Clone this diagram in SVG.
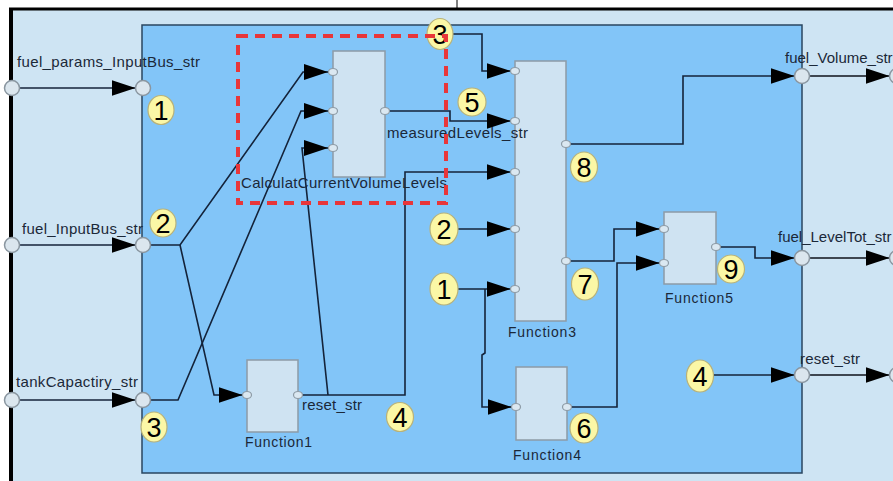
<svg xmlns="http://www.w3.org/2000/svg" width="893" height="481" viewBox="0 0 893 481">
<style>
text{font-family:"Liberation Sans",Arial,sans-serif;fill:#1b2838}
.lbl{font-size:15px}
.fn{font-size:14px}
.blk{fill:#cfe3f2;stroke:#8d9ba6;stroke-width:1.5}
.sp{fill:#dbe8f1;stroke:#8d9ba6;stroke-width:1.2}
.bp{fill:#dbe6ee;stroke:#8a96a0;stroke-width:1.5}
.bdg ellipse{fill:#fbf7a6;stroke:#b8b27a;stroke-width:1.2}
.bdg text{font-size:27px;fill:#000;text-anchor:middle}
.cn{fill:none;stroke:#14233a;stroke-width:1.6}
.out{fill:none;stroke:#3e4650;stroke-width:2}
</style>
<defs>
<marker id="arr" markerUnits="userSpaceOnUse" markerWidth="26" markerHeight="18" refX="24" refY="8" orient="auto">
<path d="M0,0 L24,8 L0,16 Z" fill="#000"/>
</marker>
</defs>
<rect x="0" y="0" width="893" height="481" fill="#ffffff"/>
<rect x="11" y="10" width="882" height="471" fill="#cee4f3"/>
<line x1="457" y1="0" x2="457" y2="9" stroke="#000" stroke-width="1"/>
<line x1="9" y1="9" x2="893" y2="9" stroke="#000" stroke-width="3"/>
<line x1="11" y1="8" x2="11" y2="481" stroke="#000" stroke-width="4"/>
<g id="container">
<rect x="142" y="25" width="660" height="448" fill="#82c5f8" stroke="#2a4560" stroke-width="1.5"/>
</g>
<g id="connectors">
<path class="cn" d="M12,88 L135.5,88" marker-end="url(#arr)"/>
<path class="cn" d="M12,245 L135.5,245" marker-end="url(#arr)"/>
<path class="cn" d="M12,400 L135.5,400" marker-end="url(#arr)"/>
<path class="cn" d="M150.5,245 L180,245 L303,72 L328,72" marker-end="url(#arr)"/>
<path class="cn" d="M180,245 L214,395 L242.5,395" marker-end="url(#arr)"/>
<path class="cn" d="M150.5,400 L178,400 L301,111 L328,111" marker-end="url(#arr)"/>
<path class="cn" d="M302,395 L405,395 L405,172 L510.5,172" marker-end="url(#arr)"/>
<path class="cn" d="M328,395 L302,148 L328,148" marker-end="url(#arr)"/>
<path class="cn" d="M389,111 L450,111 L450,121 L510.5,121" marker-end="url(#arr)"/>
<path class="cn" d="M453,34 L482,34 L482,71 L510.5,71" marker-end="url(#arr)"/>
<path class="cn" d="M457,229 L510.5,229" marker-end="url(#arr)"/>
<path class="cn" d="M457,289 L510.5,289" marker-end="url(#arr)"/>
<path class="cn" d="M485,289 L485,353 L482,355 L482,407 L511.5,407" marker-end="url(#arr)"/>
<path class="cn" d="M570,144 L683,144 L683,76 L794.5,76" marker-end="url(#arr)"/>
<path class="cn" d="M570,261 L614,261 L614,229 L659.5,229" marker-end="url(#arr)"/>
<path class="cn" d="M571,407 L617,407 L617,263 L659.5,263" marker-end="url(#arr)"/>
<path class="cn" d="M720,247 L755,247 L755,258 L794.5,258" marker-end="url(#arr)"/>
<path class="cn" d="M713,375 L794.5,375" marker-end="url(#arr)"/>
<path class="out" d="M809.5,76 L889.5,76" marker-end="url(#arr)"/>
<path class="out" d="M809.5,258 L889.5,258" marker-end="url(#arr)"/>
<path class="out" d="M809.5,375 L889.5,375" marker-end="url(#arr)"/>
</g>
<g id="port_fuel_params_InputBus_str">
<circle class="bp" cx="12" cy="88" r="7.5"/>
<circle class="bp" cx="143" cy="88" r="7.5"/>
<text class="lbl" x="17" y="67" textLength="183">fuel_params_InputBus_str</text>
</g>
<g id="port_fuel_InputBus_str">
<circle class="bp" cx="12" cy="245" r="7.5"/>
<circle class="bp" cx="143" cy="245" r="7.5"/>
<text class="lbl" x="22" y="234" textLength="121">fuel_InputBus_str</text>
</g>
<g id="port_tankCapactiry_str">
<circle class="bp" cx="12" cy="400" r="7.5"/>
<circle class="bp" cx="143" cy="400" r="7.5"/>
<text class="lbl" x="16" y="387" textLength="122">tankCapactiry_str</text>
</g>
<g id="port_fuel_Volume_str">
<circle class="bp" cx="802" cy="76" r="7.5"/>
<circle class="bp" cx="897" cy="76" r="7.5"/>
<text class="lbl" x="785" y="63">fuel_Volume_str</text>
</g>
<g id="port_fuel_LevelTot_str">
<circle class="bp" cx="802" cy="258" r="7.5"/>
<circle class="bp" cx="897" cy="258" r="7.5"/>
<text class="lbl" x="778" y="242">fuel_LevelTot_str</text>
</g>
<g id="port_reset_str">
<circle class="bp" cx="802" cy="375" r="7.5"/>
<circle class="bp" cx="897" cy="375" r="7.5"/>
<text class="lbl" x="800" y="364" textLength="60">reset_str</text>
</g>
<g id="Function3">
<rect class="blk" x="515" y="61" width="51" height="260"/>
<ellipse class="sp" cx="515" cy="71" rx="4.5" ry="3.5"/>
<ellipse class="sp" cx="515" cy="121" rx="4.5" ry="3.5"/>
<ellipse class="sp" cx="515" cy="172" rx="4.5" ry="3.5"/>
<ellipse class="sp" cx="515" cy="229" rx="4.5" ry="3.5"/>
<ellipse class="sp" cx="515" cy="289" rx="4.5" ry="3.5"/>
<ellipse class="sp" cx="566" cy="144" rx="4.5" ry="3.5"/>
<ellipse class="sp" cx="566" cy="261" rx="4.5" ry="3.5"/>
<text class="fn" x="508" y="337" textLength="68">Function3</text>
</g>
<g id="CalculatCurrentVolumeLevels">
<rect class="blk" x="333" y="51" width="52" height="126"/>
<ellipse class="sp" cx="333" cy="72" rx="4.5" ry="3.5"/>
<ellipse class="sp" cx="333" cy="111" rx="4.5" ry="3.5"/>
<ellipse class="sp" cx="333" cy="148" rx="4.5" ry="3.5"/>
<ellipse class="sp" cx="385" cy="111" rx="4.5" ry="3.5"/>
<text class="lbl" x="241" y="188" textLength="206">CalculatCurrentVolumeLevels</text>
<text class="lbl" x="387" y="138" textLength="141">measuredLevels_str</text>
</g>
<g id="Function1">
<rect class="blk" x="247" y="360" width="51" height="72"/>
<ellipse class="sp" cx="247" cy="395" rx="4.5" ry="3.5"/>
<ellipse class="sp" cx="298" cy="395" rx="4.5" ry="3.5"/>
<text class="fn" x="245" y="447" textLength="67">Function1</text>
<text class="lbl" x="302" y="410" textLength="60">reset_str</text>
</g>
<g id="Function4">
<rect class="blk" x="516" y="367" width="51" height="73"/>
<ellipse class="sp" cx="516" cy="407" rx="4.5" ry="3.5"/>
<ellipse class="sp" cx="567" cy="407" rx="4.5" ry="3.5"/>
<text class="fn" x="513" y="460" textLength="68">Function4</text>
</g>
<g id="Function5">
<rect class="blk" x="664" y="212" width="52" height="72"/>
<ellipse class="sp" cx="664" cy="229" rx="4.5" ry="3.5"/>
<ellipse class="sp" cx="664" cy="263" rx="4.5" ry="3.5"/>
<ellipse class="sp" cx="716" cy="247" rx="4.5" ry="3.5"/>
<text class="fn" x="665" y="303" textLength="68">Function5</text>
</g>
<g id="badges" class="bdg">
<g id="b1a"><ellipse cx="161" cy="110" rx="13" ry="14.5"/><text x="161" y="120">1</text></g>
<g id="b2a"><ellipse cx="163" cy="223" rx="13" ry="14"/><text x="163" y="233">2</text></g>
<g id="b3a"><ellipse cx="154" cy="427" rx="13" ry="15"/><text x="154" y="437">3</text></g>
<g id="b3b"><ellipse cx="440" cy="34" rx="13" ry="15.5"/><text x="440" y="44">3</text></g>
<g id="b5"><ellipse cx="472" cy="102" rx="14" ry="14"/><text x="472" y="112">5</text></g>
<g id="b8"><ellipse cx="584" cy="167" rx="13.5" ry="15"/><text x="584" y="177">8</text></g>
<g id="b2b"><ellipse cx="444" cy="229" rx="14" ry="16"/><text x="444" y="239">2</text></g>
<g id="b1b"><ellipse cx="444" cy="289" rx="14" ry="16"/><text x="444" y="299">1</text></g>
<g id="b7"><ellipse cx="585" cy="284" rx="13.5" ry="16"/><text x="585" y="294">7</text></g>
<g id="b4a"><ellipse cx="400" cy="417" rx="13.5" ry="14.5"/><text x="400" y="427">4</text></g>
<g id="b6"><ellipse cx="584" cy="428" rx="14" ry="15"/><text x="584" y="438">6</text></g>
<g id="b9"><ellipse cx="731" cy="269" rx="13.5" ry="14"/><text x="731" y="279">9</text></g>
<g id="b4b"><ellipse cx="700" cy="376" rx="13.5" ry="16"/><text x="700" y="386">4</text></g>
</g>
<g id="highlight">
<rect x="238" y="36" width="208" height="167" fill="none" stroke="#e8363a" stroke-width="4" stroke-dasharray="10,7"/>
</g>
</svg>
